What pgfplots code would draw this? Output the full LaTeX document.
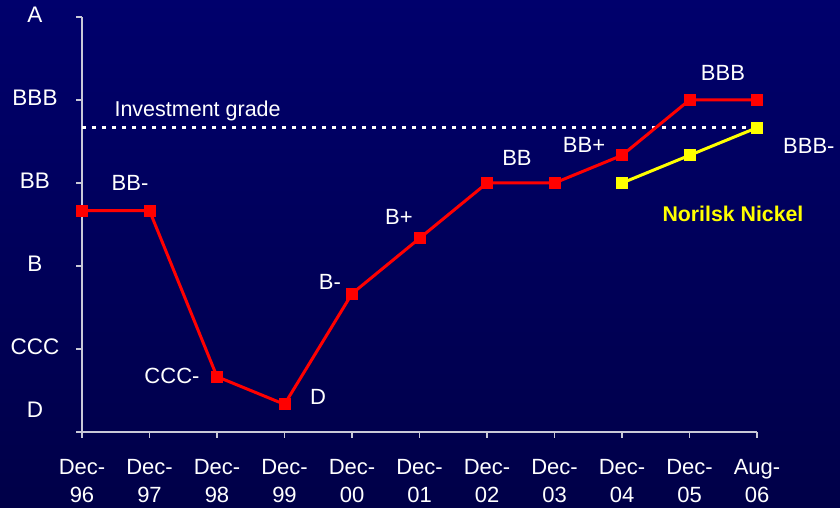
\documentclass[border=0pt]{standalone}
\usepackage{pgfplots}
\pgfplotsset{compat=1.18}
\usepackage{fontspec}
\setmainfont{Liberation Sans}
\definecolor{bgtop}{RGB}{0,0,108}
\definecolor{bgmid}{RGB}{0,0,160}
\definecolor{bgbot}{RGB}{0,0,72}
\definecolor{axisgray}{RGB}{200,200,215}
\definecolor{nred}{RGB}{255,0,0}
\definecolor{nyellow}{RGB}{255,255,0}
\begin{document}
\begin{tikzpicture}[x=1pt,y=1pt]
\useasboundingbox (0,0) rectangle (840,508);
\shade[top color=bgtop, middle color=bgmid, bottom color=bgbot] (0,0) rectangle (840,508);
\begin{axis}[
  at={(82pt,76pt)}, anchor=south west,
  scale only axis, width=675pt, height=415pt,
  xmin=0, xmax=10, ymin=0, ymax=15,
  axis x line*=bottom, axis y line*=left,
  axis line style={axisgray, line width=1.5pt, -},
  tick style={axisgray, line width=1.5pt},
  tick align=outside, major tick length=6pt,
  xtick={0,1,2,3,4,5,6,7,8,9,10},
  xticklabels={{Dec-\\96},{Dec-\\97},{Dec-\\98},{Dec-\\99},{Dec-\\00},{Dec-\\01},{Dec-\\02},{Dec-\\03},{Dec-\\04},{Dec-\\05},{Aug-\\06}},
  ytick={0,3,6,9,12,15},
  yticklabels={,CCC,B,BB,BBB,A},
  font=\fontsize{22}{28}\selectfont,
  ticklabel style={white},
  xticklabel style={align=center, yshift=-18pt},
  yticklabel style={anchor=center, xshift=-41pt, yshift=2pt, font=\fontsize{22.5}{27}\selectfont},
  clip=false,
]
\addplot[white, line width=3pt, dash pattern=on 4pt off 6pt] coordinates {(0,11) (10,11)};
\addplot[nred, line width=3pt, mark=square*, mark size=5.5pt, mark options={solid, line width=0.8pt}]
  coordinates {(0,8)(1,8)(2,2)(3,1)(4,5)(5,7)(6,9)(7,9)(8,10)(9,12)(10,12)};
\addplot[nyellow, line width=3pt, mark=square*, mark size=5.5pt, mark options={solid, line width=0.8pt}]
  coordinates {(8,9)(9,10)(10,11)};
\node[white, anchor=center, font=\fontsize{22.5}{27}\selectfont] at (axis cs:0,0.795) [xshift=-47pt] {D};
\node[white, anchor=base west, font=\fontsize{21.5}{24}\selectfont] at (axis cs:0.43,11.42) {Investment grade};
\node[white] at (axis cs:0.711,9.0) {BB-};
\node[white] at (axis cs:1.333,2.02) {CCC-};
\node[white] at (axis cs:3.496,1.26) {D};
\node[white] at (axis cs:3.674,5.42) {B-};
\node[white] at (axis cs:4.696,7.77) {B+};
\node[white] at (axis cs:6.444,9.90) {BB};
\node[white] at (axis cs:7.437,10.37) {BB+};
\node[white] at (axis cs:9.496,12.98) {BBB};
\node[white, anchor=west, inner sep=0pt] at (axis cs:10.385,10.34) {BBB-};
\node[nyellow, font=\bfseries\fontsize{21.3}{24}\selectfont] at (axis cs:9.644,7.88) {Norilsk Nickel};
\end{axis}
\end{tikzpicture}
\end{document}
